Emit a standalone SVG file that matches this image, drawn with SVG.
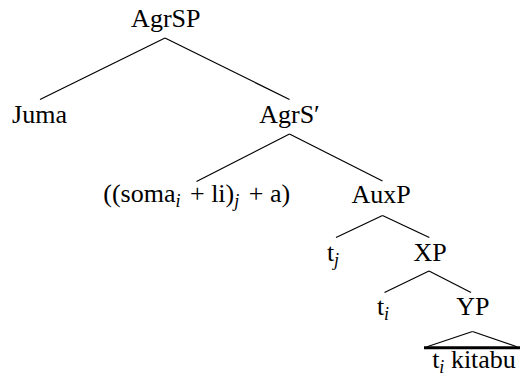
<svg xmlns="http://www.w3.org/2000/svg" width="520" height="379" viewBox="0 0 520 379">
<style>
text{font-family:'Liberation Serif','Times New Roman',serif;font-size:26px;fill:#000}
.m{text-anchor:middle}
.s{font-style:italic;font-size:18px}
line{stroke:#000;stroke-width:1.2}
.bar{stroke-width:3}
</style>
<rect width="520" height="379" fill="#fff"/>
<g id="connectors">
<line x1="165" y1="38" x2="40" y2="99.5"/>
<line x1="165" y1="38" x2="289.5" y2="99.5"/>
<line x1="289.5" y1="134" x2="196.5" y2="181.5"/>
<line x1="289.5" y1="134" x2="382.5" y2="181"/>
<line x1="382.5" y1="215.5" x2="336" y2="237.5"/>
<line x1="382.5" y1="215.5" x2="429.3" y2="237.5"/>
<line x1="429" y1="271" x2="384.5" y2="292.5"/>
<line x1="429" y1="271" x2="471" y2="292.5"/>
<line x1="472.5" y1="331.5" x2="427" y2="346.7"/>
<line x1="472.5" y1="331.5" x2="517" y2="346.7"/>
<line class="bar" x1="424" y1="347.7" x2="520" y2="347.7"/>
</g>
<g id="AgrSP"><text class="m" x="165.8" y="27">AgrSP</text></g>
<g id="Juma"><text class="m" x="39.5" y="123">Juma</text></g>
<g id="AgrSbar"><text class="m" x="289.5" y="123">AgrS′</text></g>
<g id="verb"><text class="m" x="196.7" y="202">((soma<tspan class="s" dy="5">i</tspan><tspan dy="-5" dx="3"> + li)</tspan><tspan class="s" dy="5">j</tspan><tspan dy="-5" dx="3"> + a)</tspan></text></g>
<g id="AuxP"><text class="m" x="381" y="203">AuxP</text></g>
<g id="tj"><text class="m" x="333" y="261">t<tspan class="s" dy="5">j</tspan></text></g>
<g id="XP"><text class="m" x="430" y="261">XP</text></g>
<g id="ti"><text class="m" x="383" y="315">t<tspan class="s" dy="5">i</tspan></text></g>
<g id="YP"><text class="m" x="472.8" y="315">YP</text></g>
<g id="YPcontent"><text class="m" x="474" y="368">t<tspan class="s" dy="5">i</tspan><tspan dy="-5"> kitabu</tspan></text></g>
</svg>
